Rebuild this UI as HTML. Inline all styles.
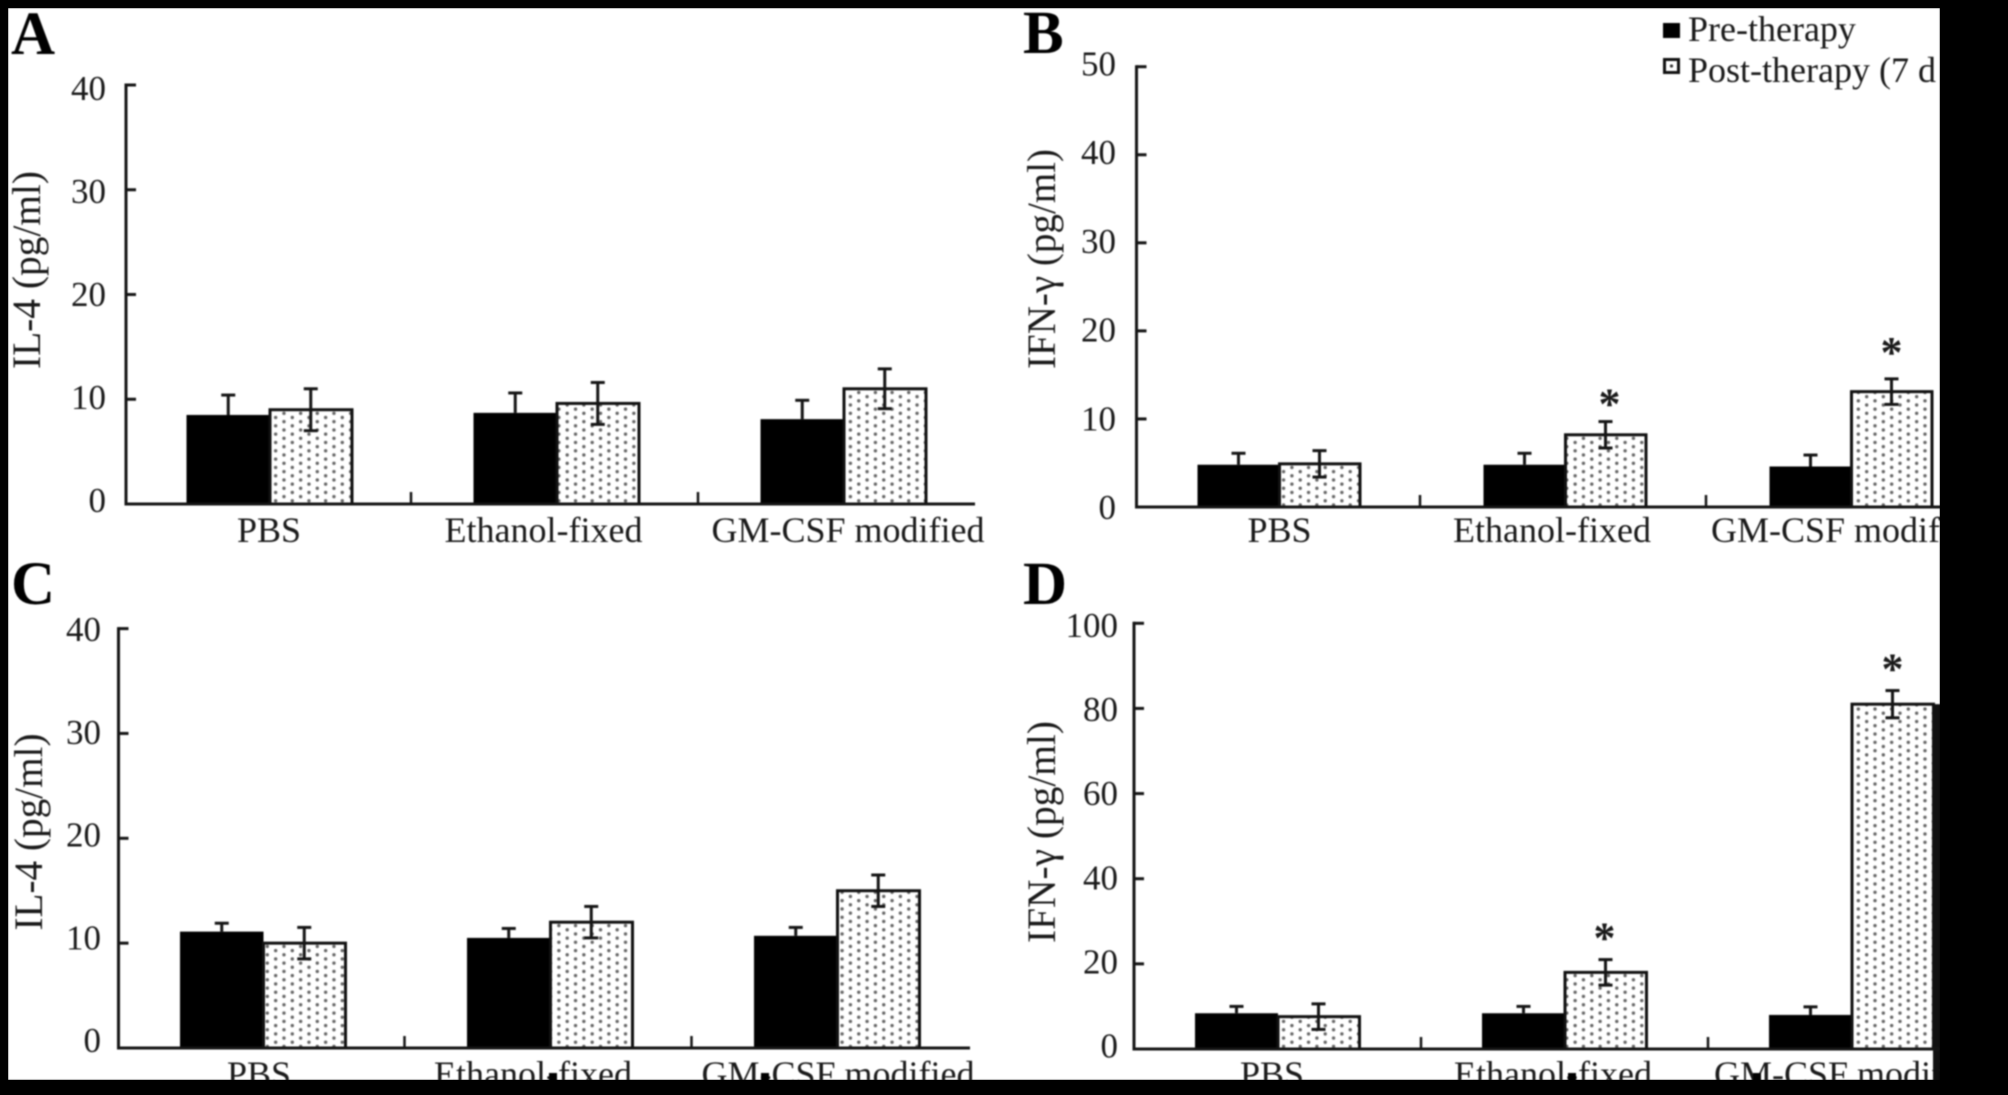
<!DOCTYPE html>
<html lang="en">
<head>
<meta charset="utf-8">
<title>IL-4 and IFN-γ pre- and post-therapy</title>
<style>
  html, body { margin: 0; padding: 0; background: #000; width: 2008px; height: 1095px; overflow: hidden; }
  svg { display: block; position: absolute; left: 0; top: 0; }
  #chart text { font-family: "Liberation Serif", "Noto Serif CJK SC", serif; fill: #1a1a1a; }
  #art { filter: blur(0.7px); }
</style>
</head>
<body>
<svg id="chart" width="2008" height="1095" viewBox="0 0 2008 1095">
  <defs>
    <pattern id="dots" patternUnits="userSpaceOnUse" width="16.66" height="8.33" patternTransform="translate(4.91 7.25)">
      <rect width="16.66" height="8.33" fill="#ffffff"></rect>
      <circle cx="4.17" cy="2.08" r="1.7" fill="#666666"></circle>
      <circle cx="12.5" cy="6.25" r="1.7" fill="#666666"></circle>
    </pattern>
  </defs>
  <g id="art">
    <rect x="8" y="8" width="1932" height="1072" fill="#ffffff"></rect>
    <g id="panels"></g>

    <rect x="549" y="1073" width="8" height="8" fill="#000"></rect>
    <rect x="761" y="1073" width="8" height="8" fill="#000"></rect>
    <rect x="1568" y="1073" width="8" height="8" fill="#000"></rect>
    <rect x="1753" y="1073" width="8" height="8" fill="#000"></rect>

    <g>
      <g>
        <rect x="1663" y="23" width="17" height="15" fill="#000"></rect>
        <text x="1688" y="41" font-size="36">Pre-therapy</text>
      </g>
      <g>
        <rect x="1664.5" y="59.5" width="14" height="13" fill="#fff" stroke="#111" stroke-width="3"></rect>
        <circle cx="1671.5" cy="66" r="1.6" fill="#333"></circle>
        <text x="1688" y="82" font-size="36">Post-therapy (7 d</text>
      </g>
    </g>

    <text x="11" y="54" font-size="61" font-weight="bold" style="fill:#000">A</text>
    <text x="1023" y="53" font-size="61" font-weight="bold" style="fill:#000">B</text>
    <text x="11" y="604" font-size="61" font-weight="bold" style="fill:#000">C</text>
    <text x="1023" y="604" font-size="61" font-weight="bold" style="fill:#000">D</text>
  </g>

  <rect x="0" y="0" width="2008" height="8" fill="#000"></rect>
  <rect x="0" y="0" width="8" height="1095" fill="#000"></rect>
  <rect x="1940" y="0" width="68" height="1095" fill="#000"></rect>
  <rect x="0" y="1080" width="2008" height="15" fill="#000"></rect>
</svg>

<script>
// ---- chart data ----
var categories = ['PBS', 'Ethanol-fixed', 'GM-CSF modified'];

var panelAPre = [8.5, 8.7, 8.1];
var panelAPost = [9.0, 9.6, 11.0];
var panelAPreErr = [1.9, 1.9, 1.8];
var panelAPostErr = [2.0, 2.0, 1.9];
var panelATicks = [0, 10, 20, 30, 40];

var panelBPre = [4.8, 4.8, 4.6];
var panelBPost = [4.9, 8.2, 13.1];
var panelBPreErr = [1.3, 1.3, 1.3];
var panelBPostErr = [1.5, 1.5, 1.45];
var panelBTicks = [0, 10, 20, 30, 40, 50];
var panelBStars = [false, true, true];

var panelCPre = [11.1, 10.5, 10.7];
var panelCPost = [10.0, 12.0, 15.0];
var panelCPreErr = [0.8, 0.9, 0.8];
var panelCPostErr = [1.5, 1.5, 1.5];
var panelCTicks = [0, 10, 20, 30, 40];

var panelDPre = [8.4, 8.4, 8.0];
var panelDPost = [7.6, 18.0, 81.0];
var panelDPreErr = [1.6, 1.6, 1.9];
var panelDPostErr = [3.0, 3.0, 3.2];
var panelDTicks = [0, 20, 40, 60, 80, 100];
var panelDStars = [false, true, true];

// ---- panel geometry ----
var panels = [
  { id: 'a', title: 'IL-4 (pg/ml)', pre: panelAPre, post: panelAPost, preErr: panelAPreErr, postErr: panelAPostErr, ticks: panelATicks, stars: null, starGap: [0, 0, 0], starShift: [0, 0, 0],
    axisX: 126, bandX: 126.5, step: 287, hw: 83.5, y0: 504, yTop: 85, max: 40, axisEnd: 975, sepShift: -2.5,
    labelShift: [-1, -13.5, 4], labelY: 542, tickRight: 106, tickBase0: 512, tickBaseTop: 100,
    titleX: 40, titleY: 270, titleLen: 198 },
  { id: 'b', title: 'IFN-γ (pg/ml)', pre: panelBPre, post: panelBPost, preErr: panelBPreErr, postErr: panelBPostErr, ticks: panelBTicks, stars: panelBStars, starGap: [0, 23, 32], starShift: [0, 4, 0],
    axisX: 1136.5, bandX: 1136.5, step: 286, hw: 82, y0: 507, yTop: 66.7, max: 50, axisEnd: 1940, sepShift: -2.5,
    labelShift: [0, -13.5, -4], labelY: 542, tickRight: 1116, tickBase0: 519, tickBaseTop: 75.5,
    titleX: 1055, titleY: 259, titleLen: 220 },
  { id: 'c', title: 'IL-4 (pg/ml)', pre: panelCPre, post: panelCPost, preErr: panelCPreErr, postErr: panelCPostErr, ticks: panelCTicks, stars: null, starGap: [0, 0, 0], starShift: [0, 0, 0],
    axisX: 118.5, bandX: 120, step: 287, hw: 83.5, y0: 1048, yTop: 628.6, max: 40, axisEnd: 970, sepShift: -2.5,
    labelShift: [-4.5, -17.5, 0.5], labelY: 1086, tickRight: 101, tickBase0: 1052, tickBaseTop: 641,
    titleX: 42, titleY: 832, titleLen: 197 },
  { id: 'd', title: 'IFN-γ (pg/ml)', pre: panelDPre, post: panelDPost, preErr: panelDPreErr, postErr: panelDPostErr, ticks: panelDTicks, stars: panelDStars, starGap: [0, 27, 27], starShift: [0, -1, 0],
    axisX: 1134, bandX: 1134.5, step: 287, hw: 83, y0: 1049, yTop: 623.3, max: 100, axisEnd: 1940, sepShift: -0.5,
    labelShift: [-6, -12, -1.5], labelY: 1086, tickRight: 1118, tickBase0: 1057.5, tickBaseTop: 637,
    titleX: 1055, titleY: 832, titleLen: 222 }
];

var INK = '#151515';
var NS = 'http://www.w3.org/2000/svg';
var root = document.getElementById('panels');

function make(parent, tag, attrs) {
  var node = document.createElementNS(NS, tag);
  for (var k in attrs) { node.setAttribute(k, attrs[k]); }
  parent.appendChild(node);
  return node;
}

function drawLine(parent, x1, y1, x2, y2, width) {
  return make(parent, 'line', { x1: x1, y1: y1, x2: x2, y2: y2, stroke: INK, 'stroke-width': width });
}

function drawError(parent, x, yScale, value, err, key, upperOnly) {
  var g = make(parent, 'g', {});
  
  
  var hi = yScale(value + err);
  var lo = upperOnly ? yScale(value) : yScale(value - err);
  drawLine(g, x, hi, x, lo, 3);
  drawLine(g, x - 7, hi, x + 7, hi, 3);
  if (!upperOnly) {
    drawLine(g, x - 7, lo, x + 7, lo, 3);
  }
}

panels.forEach(function (p) {
  var yScale = function (v) { return p.y0 - (v / p.max) * (p.y0 - p.yTop); };
  var xCenter = function (i) { return p.bandX + p.step * (i + 0.5); };
  var tickLabelY = function (v) { return p.tickBase0 - (v / p.max) * (p.tickBase0 - p.tickBaseTop); };

  var panel = make(root, 'g', {});
  
  

  // bars
  categories.forEach(function (cat, i) {
    var cx = xCenter(i);
    var preTop = yScale(p.pre[i]);
    var postTop = yScale(p.post[i]);

    var preBar = make(panel, 'rect', { x: cx - p.hw, y: preTop, width: p.hw, height: p.y0 - preTop, fill: '#000' });
    
    

    var postBar = make(panel, 'rect', { x: cx, y: postTop, width: p.hw - 1.5, height: p.y0 - postTop, fill: 'url(#dots)', stroke: '#111', 'stroke-width': 3 });
    
    

    drawError(panel, cx - p.hw / 2, yScale, p.pre[i], p.preErr[i], 'pre-' + p.id + '-' + (i + 1), true);
    drawError(panel, cx + p.hw / 2 - 1, yScale, p.post[i], p.postErr[i], 'post-' + p.id + '-' + (i + 1), false);

    if (p.stars && p.stars[i]) {
      var star = make(panel, 'text', { x: cx + p.hw / 2 - 1 + p.starShift[i], y: yScale(p.post[i] + p.postErr[i]) - p.starGap[i] + 20, 'font-size': 44, 'text-anchor': 'middle', 'font-weight': 'bold' });
      star.textContent = '*';
      
      
    }

    var label = make(panel, 'text', { x: cx + p.labelShift[i], y: p.labelY, 'font-size': 36, 'text-anchor': 'middle' });
    label.textContent = cat;
    
    
  });

  // dark strip beside the tallest clipped bar in panel D
  if (p.id === 'd') {
    var stripTop = yScale(p.post[2]);
    var strip = make(panel, 'rect', { x: 1933, y: stripTop, width: 7, height: p.y0 - stripTop + 40, fill: '#111' });
    
    
  }

  // y axis
  var yAxis = drawLine(panel, p.axisX, p.yTop - 1.5, p.axisX, p.y0 + 1.5, 3);
  
  

  p.ticks.forEach(function (t) {
    var mark = drawLine(panel, p.axisX, yScale(t), p.axisX + 10, yScale(t), 3);
    
    

    var tickText = make(panel, 'text', { x: p.tickRight, y: tickLabelY(t), 'font-size': 35, 'text-anchor': 'end' });
    tickText.textContent = String(t);
    
    
  });

  // x axis
  var xAxis = drawLine(panel, p.axisX - 1.5, p.y0, p.axisEnd, p.y0, 3);
  
  

  [1, 2].forEach(function (n) {
    var sx = p.bandX + p.step * n + p.sepShift;
    var sep = drawLine(panel, sx, p.y0 - 12, sx, p.y0, 2.5);
    
    
  });

  // y title
  var title = make(panel, 'text', {
    transform: 'translate(' + p.titleX + ',' + p.titleY + ') rotate(-90)',
    'font-size': 40, 'text-anchor': 'middle', textLength: p.titleLen, lengthAdjust: 'spacingAndGlyphs'
  });
  title.textContent = p.title;
  
  
});
</script>
</body>
</html>
